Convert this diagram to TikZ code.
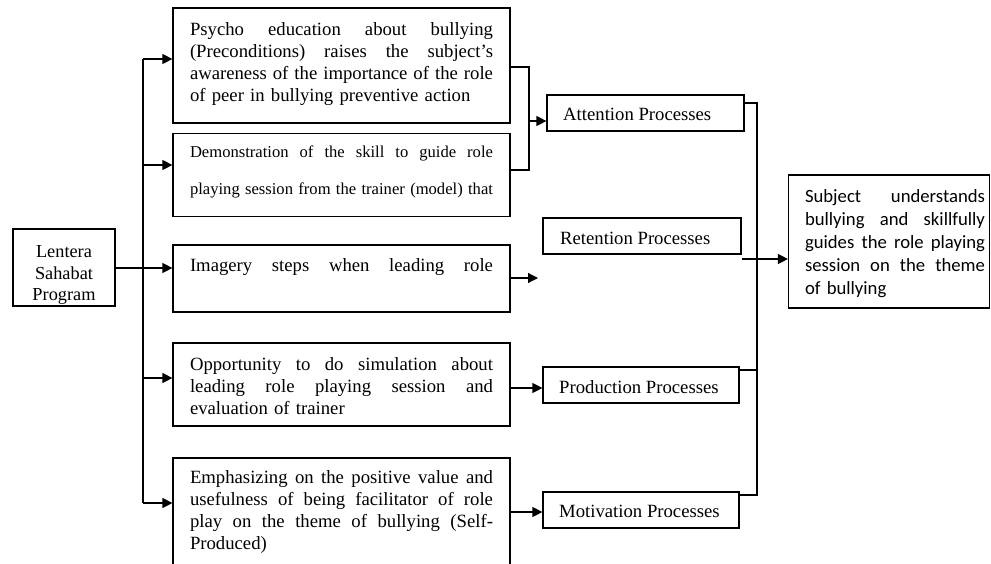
\documentclass[tikz,border=0pt]{standalone}
\usepackage{fontspec}
\setmainfont{Liberation Serif}
\newfontfamily\calib{Carlito}
\usetikzlibrary{arrows.meta}
\newcommand\jl[1]{\leavevmode\hbox to 303pt{\spaceskip=\fontdimen2\font plus 1fil minus \fontdimen4\font\relax #1}}
\newcommand\js[1]{\leavevmode\hbox to 180pt{\spaceskip=\fontdimen2\font plus 1fil minus \fontdimen4\font\relax #1}}
\begin{document}
\begin{tikzpicture}[x=1pt,y=-1pt,
  box/.style={draw, line width=1.2pt, inner sep=0pt, rectangle},
  txt/.style={inner sep=0pt, font=\fontsize{18.7}{21.7}\selectfont, align=left, text width=303pt},
  ptxt/.style={inner sep=0pt, font=\fontsize{18.7}{21.7}\selectfont, anchor=west},
  arr/.style={-{Triangle[length=10pt,width=10pt]}, line width=1.2pt},
  ln/.style={line width=1.2pt}]
\useasboundingbox (0,0) rectangle (991,563);
\clip (0,0) rectangle (991,563);
\fill[white] (0,0) rectangle (991,563);

% left column boxes
\node[box, minimum width=337pt, minimum height=115pt] (b1) at (341.5,65.5) {};
\node[txt] (t1) at (341.5,64) {\jl{Psycho education about bullying}\\
  \jl{(Preconditions) raises the subject’s}\\
  \jl{awareness of the importance of the role}\\
  of peer in bullying preventive action};

\node[box, minimum width=337pt, minimum height=83pt] (b2) at (341.5,175) {};
\node[txt, font=\fontsize{16.6}{21}\selectfont] (t2) at (341.5,172) {\jl{Demonstration of the skill to guide role}\\[16pt]
  \jl{playing session from the trainer (model) that}};

\node[box, minimum width=337pt, minimum height=67pt] (b3) at (341.5,278.5) {};
\node[txt] (t3) at (341.5,267) {\jl{Imagery steps when leading role}};

\node[box, minimum width=337pt, minimum height=83pt] (b4) at (341.5,384.5) {};
\node[txt] (t4) at (341.5,386) {\jl{Opportunity to do simulation about}\\
  \jl{leading role playing session and}\\
  evaluation of trainer};

\node[box, minimum width=337pt, minimum height=112pt] (b5) at (341.5,514) {};
\node[txt] (t5) at (341.5,512) {\jl{Emphasizing on the positive value and}\\
  \jl{usefulness of being facilitator of role}\\
  \jl{play on the theme of bullying (Self-}\\
  Produced)};

% program box
\node[box, minimum width=102pt, minimum height=77pt] (lent) at (64,267.5) {};
\begin{scope}
  \clip (lent.north west) rectangle ([yshift=3.5pt]lent.south east);
  \node[inner sep=0pt, font=\fontsize{18.3}{21.5}\selectfont, align=center] (tl) at (64,275) {Lentera\\Sahabat\\Program};
\end{scope}

% process boxes
\node[box, minimum width=197pt, minimum height=36pt] (att) at (645.5,113) {};
\node[ptxt] (tatt) at (563,114.5) {Attention Processes};
\node[box, minimum width=198pt, minimum height=36pt] (ret) at (642,236) {};
\node[ptxt] (tret) at (560,238.5) {Retention Processes};
\node[box, minimum width=196pt, minimum height=36pt] (prod) at (641,385) {};
\node[ptxt] (tprod) at (559,387.5) {Production Processes};
\node[box, minimum width=196pt, minimum height=36pt] (mot) at (641,510) {};
\node[ptxt] (tmot) at (559,511.5) {Motivation Processes};

% outcome box
\node[box, minimum width=201pt, minimum height=133pt] (subj) at (889,241.5) {};
\node[inner sep=0pt, font=\calib\fontsize{18.7}{23}\selectfont, align=left, text width=180pt] (tsubj) at (895,243.5)
  {\js{Subject understands}\\ \js{bullying and skillfully}\\ \js{guides the role playing}\\ \js{session on the theme}\\ of bullying};

% left bus
\coordinate (busT) at (143,59);
\coordinate (bus2) at (143,165);
\coordinate (bus4) at (143,378);
\coordinate (busB) at (143,503);
\draw[ln] (busT) -- (busB);
\draw[arr] (busT) -- (busT -| b1.west);
\draw[arr] (bus2) -- (bus2 -| b2.west);
\draw[arr] (bus4) -- (bus4 -| b4.west);
\draw[arr] (busB) -- (busB -| b5.west);
\coordinate (lo) at (115,268);
\draw[arr] (lo -| lent.east) -- (lo -| b3.west);

% bracket to attention
\coordinate (brT) at (529,67);
\coordinate (brB) at (529,170);
\coordinate (brM) at (529,121);
\draw[ln] (brT -| b1.east) -- (brT) -- (brB) -- (brB -| b2.east);
\draw[arr] (brM) -- (brM -| att.west);

% imagery arrow
\coordinate (imgEnd) at (538,278);
\draw[arr] (imgEnd -| b3.east) -- (imgEnd);

% to production / motivation
\coordinate (a4) at (510,388);
\draw[arr] (a4 -| b4.east) -- (a4 -| prod.west);
\coordinate (a5) at (510,512);
\draw[arr] (a5 -| b5.east) -- (a5 -| mot.west);

% right bus
\coordinate (rbT) at (757,103);
\coordinate (rbP) at (757,370);
\coordinate (rbB) at (757,495);
\draw[ln] (rbT -| att.east) -- (rbT) -- (rbB) -- (rbB -| mot.east);
\draw[ln] (rbP -| prod.east) -- (rbP);
\coordinate (sIn) at (742,259);
\draw[arr] (sIn) -- (sIn -| subj.west);
\end{tikzpicture}
\end{document}
